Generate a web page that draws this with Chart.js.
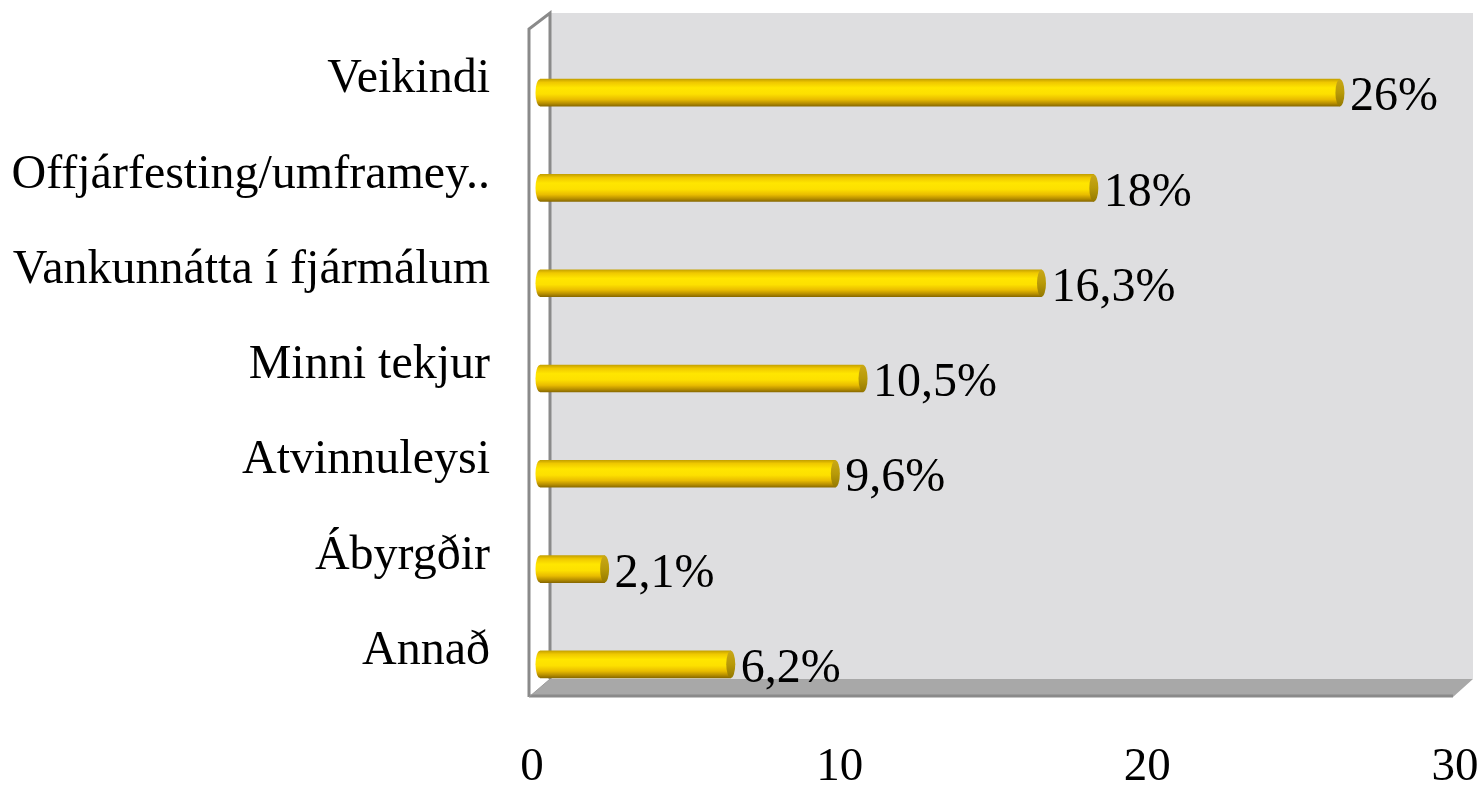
<!DOCTYPE html>
<html><head><meta charset="utf-8">
<script src="https://cdn.jsdelivr.net/npm/chart.js@4.4.1/dist/chart.umd.min.js"></script>
<style>html,body{margin:0;padding:0;background:#fff;overflow:hidden;} #wrap{width:1479px;height:786px;}</style>
</head><body><div id="wrap"><canvas id="c" width="1479" height="786"></canvas></div>
<script>
const categories = ["Veikindi", "Offjárfesting/umframey..", "Vankunnátta í fjármálum", "Minni tekjur", "Atvinnuleysi", "Ábyrgðir", "Annað"];
const values = [26, 18, 16.3, 10.5, 9.6, 2.1, 6.2];
const valueLabels = ["26%", "18%", "16,3%", "10,5%", "9,6%", "2,1%", "6,2%"];
const xTicks = [0, 10, 20, 30];

const FONT = "'Liberation Serif', 'Times New Roman', serif";
const BAR_H = 27;
const CAP_RX = 4.5;

function makeBarGradient(ctx, y) {
  const h = BAR_H / 2;
  const g = ctx.createLinearGradient(0, y - h, 0, y + h);
  g.addColorStop(0, '#c6a200');
  g.addColorStop(0.12, '#efc800');
  g.addColorStop(0.32, '#ffe600');
  g.addColorStop(0.55, '#fde000');
  g.addColorStop(0.75, '#e9bc00');
  g.addColorStop(0.9, '#b68e00');
  g.addColorStop(1, '#8a6a00');
  return g;
}

function barGradient(c) {
  const chart = c.chart;
  if (c.type !== 'data' || !chart.scales || !chart.scales.y) return '#f5d400';
  const y = chart.scales.y.getPixelForValue(c.dataIndex);
  if (!isFinite(y)) return '#f5d400';
  return makeBarGradient(chart.ctx, y);
}

const wallsPlugin = {
  id: 'walls',
  beforeDatasetsDraw(chart) {
    const ctx = chart.ctx, a = chart.chartArea, xs = chart.scales.x;
    const x0 = xs.getPixelForValue(0), x1 = xs.getPixelForValue(30);
    const backTop = a.top - 32, floorBack = a.bottom - 33, floorFront = a.bottom - 15;
    const lf = x0 - 11, lb = x0 + 10, rb = x1 + 10, rf = x1 - 10, ltf = backTop + 16;
    ctx.save();
    ctx.fillStyle = '#dedee0';
    ctx.fillRect(lb, backTop, rb - lb, floorBack - backTop);
    ctx.fillStyle = '#ffffff';
    ctx.beginPath();
    ctx.moveTo(lf, ltf); ctx.lineTo(lb, backTop); ctx.lineTo(lb, floorBack); ctx.lineTo(lf, floorFront); ctx.closePath();
    ctx.fill();
    ctx.fillStyle = '#a8a8a8';
    ctx.beginPath();
    ctx.moveTo(lf, floorFront); ctx.lineTo(lb, floorBack); ctx.lineTo(rb, floorBack); ctx.lineTo(rf, floorFront); ctx.closePath();
    ctx.fill();
    ctx.strokeStyle = '#8a8a8a';
    ctx.lineWidth = 3;
    ctx.beginPath();
    ctx.moveTo(lf, floorFront); ctx.lineTo(lf, ltf); ctx.lineTo(lb, backTop); ctx.lineTo(lb, floorBack);
    ctx.stroke();
    ctx.beginPath();
    ctx.moveTo(lf, floorFront - 1); ctx.lineTo(rf, floorFront - 1);
    ctx.stroke();
    ctx.lineWidth = 1;
    ctx.strokeStyle = '#9a9a9a';
    ctx.beginPath();
    ctx.moveTo(lf, floorFront); ctx.lineTo(lb, floorBack);
    ctx.stroke();
    ctx.restore();
  }
};

const capsPlugin = {
  id: 'caps',
  afterDatasetsDraw(chart) {
    const ctx = chart.ctx;
    const meta = chart.getDatasetMeta(0);
    ctx.save();
    meta.data.forEach((el, i) => {
      const h = BAR_H / 2;
      const y = el.y;
      ctx.fillStyle = makeBarGradient(ctx, y);
      ctx.beginPath();
      ctx.ellipse(el.base, y, CAP_RX, h, 0, Math.PI / 2, Math.PI * 1.5);
      ctx.closePath();
      ctx.fill();
      const g2 = ctx.createLinearGradient(0, y - h, 0, y + h);
      g2.addColorStop(0, '#c9a818');
      g2.addColorStop(0.5, '#b89a08');
      g2.addColorStop(1, '#947800');
      ctx.fillStyle = g2;
      ctx.beginPath();
      ctx.ellipse(el.x, y, CAP_RX, h, 0, 0, Math.PI * 2);
      ctx.fill();
      ctx.fillStyle = '#000';
      ctx.font = '48px ' + FONT;
      ctx.textAlign = 'left';
      ctx.textBaseline = 'middle';
      ctx.fillText(valueLabels[i], el.x + 10, y + 5);
    });
    ctx.restore();
  }
};

new Chart(document.getElementById('c'), {
  type: 'bar',
  data: {
    labels: categories,
    datasets: [{
      data: values,
      backgroundColor: barGradient,
      borderWidth: 0,
      barThickness: BAR_H
    }]
  },
  options: {
    indexAxis: 'y',
    responsive: false,
    animation: false,
    layout: { padding: { left: 0, right: 16, top: 45, bottom: 0 } },
    plugins: { legend: { display: false }, tooltip: { enabled: false } },
    scales: {
      y: {
        type: 'category',
        grid: { display: false, drawTicks: false },
        border: { display: false },
        ticks: { font: { family: FONT, size: 48 }, color: '#000', padding: 50, labelOffset: -13 },
        afterFit(s) { s.width = 540; s.paddingTop = 0; s.paddingBottom = 0; }
      },
      x: {
        type: 'linear',
        min: 0, max: 30,
        afterBuildTicks(s) { s.ticks = xTicks.map(v => ({ value: v })); },
        grid: { display: false, drawTicks: false },
        border: { display: false },
        ticks: { font: { family: FONT, size: 47 }, color: '#000', padding: 27, labelOffset: -8 },
        afterFit(s) { s.height = 74; s.paddingLeft = 0; s.paddingRight = 0; }
      }
    }
  },
  plugins: [wallsPlugin, capsPlugin]
});
</script>
</body></html>
